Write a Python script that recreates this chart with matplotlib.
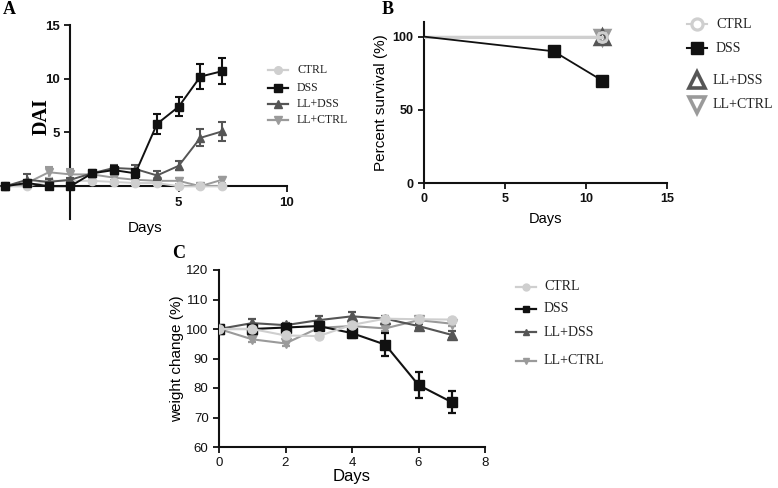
import matplotlib
matplotlib.use("Agg")
import matplotlib.pyplot as plt
from matplotlib.lines import Line2D

W, H = 778, 488
SANS = "Liberation Sans"
SERIF = "Liberation Serif"
plt.rcParams['font.family'] = [SANS, 'DejaVu Sans']

groups = ["CTRL", "DSS", "LL+DSS", "LL+CTRL"]
colors = {"CTRL": "#cfcfcf", "DSS": "#111111", "LL+DSS": "#555555", "LL+CTRL": "#9a9a9a"}
markers = {"CTRL": "o", "DSS": "s", "LL+DSS": "^", "LL+CTRL": "v"}

# Panel A: DAI
dai_days = [-3, -2, -1, 0, 1, 2, 3, 4, 5, 6, 7]
dai_ctrl = [0.0, 0.0, 0.5, 0.5, 0.5, 0.4, 0.3, 0.3, 0.0, 0.0, 0.0]
dai_ctrl_err = [0.1, 0.1, 0.2, 0.2, 0.1, 0.1, 0.1, 0.1, 0.1, 0.1, 0.1]
dai_dss = [0.0, 0.3, 0.0, 0.0, 1.2, 1.5, 1.2, 5.8, 7.4, 10.2, 10.7]
dai_dss_err = [0.0, 0.2, 0.0, 0.0, 0.3, 0.4, 0.4, 0.9, 0.9, 1.2, 1.2]
dai_lldss = [0.0, 0.6, 0.4, 0.6, 1.2, 1.7, 1.6, 1.0, 1.9, 4.5, 5.1]
dai_lldss_err = [0.0, 0.5, 0.3, 0.2, 0.3, 0.3, 0.4, 0.4, 0.4, 0.8, 0.9]
dai_llctrl = [0.0, 0.3, 1.3, 1.1, 1.1, 0.8, 0.6, 0.5, 0.5, 0.0, 0.6]
dai_llctrl_err = [0.0, 0.2, 0.5, 0.5, 0.2, 0.2, 0.2, 0.2, 0.3, 0.2, 0.3]

# Panel B: survival
surv_days = {"CTRL": [0, 11], "DSS": [0, 8, 11], "LL+DSS": [0, 11], "LL+CTRL": [0, 11]}
surv_vals = {"CTRL": [100, 100], "DSS": [100, 90, 70], "LL+DSS": [100, 100], "LL+CTRL": [100, 100]}

# Panel C: weight change
wt_days = [0, 1, 2, 3, 4, 5, 6, 7]
wt_ctrl = [100, 100, 97.8, 97.6, 101.4, 103.5, 103.3, 103.2]
wt_ctrl_err = [0.3, 0.5, 0.5, 0.5, 0.6, 0.6, 0.5, 0.5]
wt_dss = [100, 100, 100.5, 101.0, 98.6, 94.7, 81.0, 75.2]
wt_dss_err = [0.3, 0.6, 0.6, 0.8, 1.6, 3.8, 4.5, 3.7]
wt_lldss = [100, 102.0, 101.3, 103.0, 104.3, 103.5, 101.0, 98.0]
wt_lldss_err = [0.3, 1.5, 0.8, 1.3, 1.3, 1.0, 0.8, 1.2]
wt_llctrl = [100, 96.5, 95.1, 100.4, 101.0, 100.2, 103.0, 101.8]
wt_llctrl_err = [0.3, 0.8, 0.8, 0.8, 1.0, 1.0, 0.8, 0.8]

fig = plt.figure(figsize=(W / 100, H / 100), dpi=100)


def px_axes(l, t, r, b):
    return fig.add_axes([l / W, 1 - b / H, (r - l) / W, (b - t) / H])


def legend_entry(x, y, g, ms, mfc=None, mew=1.0, line=True, lw=1.5, text_dx=18, fs=8):
    fx, fy = x / W, 1 - y / H
    if line:
        fig.add_artist(Line2D([(x - 10) / W, (x + 10) / W], [fy, fy], color=colors[g], lw=lw,
                              transform=fig.transFigure))
    fig.add_artist(Line2D([fx], [fy], marker=markers[g], ms=ms, color=colors[g],
                          mfc=mfc if mfc is not None else colors[g], mec=colors[g], mew=mew,
                          linestyle='none', transform=fig.transFigure))
    fig.text((x + text_dx) / W, fy, g, fontsize=fs, family=SERIF, va='center', ha='left',
             color='#222222')


def style_axes(ax):
    for s in ['top', 'right']:
        ax.spines[s].set_visible(False)
    for s in ['left', 'bottom']:
        ax.spines[s].set_linewidth(1.5)
        ax.spines[s].set_color('#111111')
    ax.tick_params(width=1.3, length=4, color='#111111', labelcolor='#111111')


# ---------------- Panel A ----------------
axA = px_axes(0, 25, 287, 219)
style_axes(axA)
axA.spines['left'].set_position(('data', 0))
axA.spines['bottom'].set_position(('data', 0))
axA.set_xlim(-3.25, 10)
axA.set_ylim(-3.05, 15)
axA.set_xticks([5, 10])
axA.set_yticks([5, 10, 15])
for lab in axA.get_xticklabels() + axA.get_yticklabels():
    lab.set_fontweight('bold')
    lab.set_fontsize(9.5)
seriesA = [("CTRL", dai_ctrl, dai_ctrl_err, 4), ("LL+CTRL", dai_llctrl, dai_llctrl_err, 3),
           ("LL+DSS", dai_lldss, dai_lldss_err, 5), ("DSS", dai_dss, dai_dss_err, 6)]
for g, v, e, z in seriesA:
    axA.errorbar(dai_days, v, yerr=e, color=colors[g], marker=markers[g], ms=6,
                 lw=1.4, elinewidth=1.5, capsize=3, capthick=1.5, zorder=z)
axA.set_xlabel("Days", fontsize=11, labelpad=2)
axA.xaxis.set_label_coords(145 / 287, -0.01)
fig.text(9 / W, 1 - 10 / H, "A", family=SERIF, fontweight='bold', fontsize=13, ha='center', va='center')
fig.text(42 / W, 1 - 117 / H, "DAI", family=SERIF, fontweight='bold', fontsize=14.5, ha='center',
         va='center', rotation=90)
for g, y in zip(groups, [70, 88, 104, 120]):
    legend_entry(278, y, g, ms=5.5, lw=1.6, text_dx=19, fs=8.5)

# ---------------- Panel B ----------------
axB = px_axes(424, 22, 667, 183)
style_axes(axB)
axB.set_xlim(0, 15)
axB.set_ylim(0, 110)
axB.set_xticks([0, 5, 10, 15])
axB.set_yticks([0, 50, 100])
for lab in axB.get_xticklabels() + axB.get_yticklabels():
    lab.set_fontweight('bold')
    lab.set_fontsize(9)
axB.plot(surv_days["LL+CTRL"], surv_vals["LL+CTRL"], color=colors["LL+CTRL"], lw=1.5,
         marker=markers["LL+CTRL"], markevery=[1], ms=10, mfc='none', mew=2.5, zorder=3)
axB.plot(surv_days["LL+DSS"], surv_vals["LL+DSS"], color=colors["LL+DSS"], lw=1.5,
         marker=markers["LL+DSS"], markevery=[1], ms=10, mfc='none', mew=2.5, zorder=4)
axB.plot(surv_days["CTRL"], surv_vals["CTRL"], color=colors["CTRL"], lw=2.2,
         marker=markers["CTRL"], markevery=[1], ms=7, mfc='none', mew=2.2, zorder=5)
axB.plot(surv_days["DSS"], surv_vals["DSS"], color=colors["DSS"], lw=1.3,
         marker=markers["DSS"], markevery=[1, 2], ms=9, zorder=6)
axB.set_xlabel("Days", fontsize=10.5, labelpad=5)
axB.set_ylabel("Percent survival (%)", fontsize=11, labelpad=3)
fig.text(388 / W, 1 - 9 / H, "B", family=SERIF, fontweight='bold', fontsize=13, ha='center', va='center')
legend_entry(697, 24, "CTRL", ms=8, mfc='white', mew=2.3, line=True, lw=1.5, text_dx=19, fs=10)
legend_entry(697, 48, "DSS", ms=9, line=True, lw=1.5, text_dx=19, fs=10)
legend_entry(697, 80, "LL+DSS", ms=11, mfc='white', mew=2.6, line=False, text_dx=16, fs=10)
legend_entry(697, 105, "LL+CTRL", ms=11, mfc='white', mew=2.6, line=False, text_dx=16, fs=10)

# ---------------- Panel C ----------------
axC = px_axes(219, 270, 485, 447)
style_axes(axC)
axC.set_xlim(0, 8)
axC.set_ylim(60, 120)
axC.set_xticks([0, 2, 4, 6, 8])
axC.set_yticks(range(60, 121, 10))
for lab in axC.get_xticklabels() + axC.get_yticklabels():
    lab.set_fontsize(9.5)
seriesC = [("LL+CTRL", wt_llctrl, wt_llctrl_err, 3), ("LL+DSS", wt_lldss, wt_lldss_err, 4),
           ("DSS", wt_dss, wt_dss_err, 5), ("CTRL", wt_ctrl, wt_ctrl_err, 6)]
for g, v, e, z in seriesC:
    axC.errorbar(wt_days, v, yerr=e, color=colors[g], marker=markers[g], ms=6.5,
                 lw=1.5, elinewidth=1.6, capsize=3, capthick=1.6, zorder=z)
axC.set_xlabel("Days", fontsize=12, labelpad=0)
axC.set_ylabel("weight change (%)", fontsize=11, labelpad=2)
fig.text(179 / W, 1 - 253 / H, "C", family=SERIF, fontweight='bold', fontsize=13, ha='center', va='center')
for g, y in zip(groups, [287, 309, 332, 361]):
    legend_entry(526, y, g, ms=5, lw=1.6, text_dx=18, fs=10)

fig.savefig("out.png", dpi=100)
